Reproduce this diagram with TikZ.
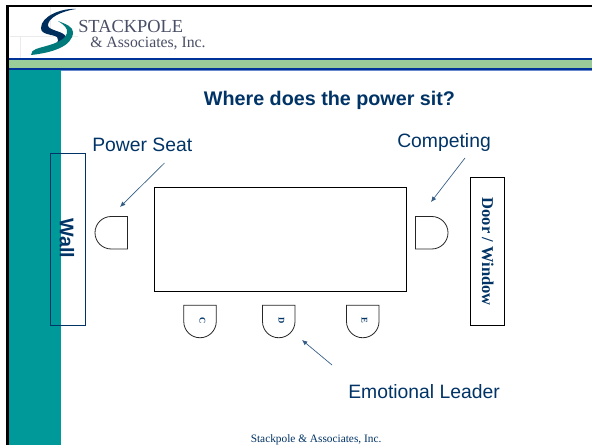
\documentclass[tikz,border=0pt]{standalone}
\usepackage{fontspec}
\setmainfont{Liberation Serif}
\setsansfont{Liberation Sans}
\usetikzlibrary{arrows.meta}
\definecolor{navy}{HTML}{003366}
\definecolor{teal2}{HTML}{009999}
\definecolor{bandgreen}{HTML}{99CC99}
\definecolor{bandblue}{HTML}{003399}
\definecolor{bandlight}{HTML}{6688CC}
\definecolor{logogrey}{HTML}{4A4F66}
\tikzset{
  x=0.75pt,y=-0.75pt,
  chair/.pic={\draw[black!85,line width=0.6pt] (-16.25,-16.25) -- (16.25,-16.25) -- (16.25,0)
     .. controls (16.25,9) and (9,16.25) .. (0,16.25)
     .. controls (-9,16.25) and (-16.25,9) .. (-16.25,0) -- cycle;},
  box/.style={draw=black,line width=0.75pt,inner sep=0pt,anchor=north west},
  label/.style={font=\sffamily\fontsize{14.5}{16}\selectfont,text=navy,anchor=base west,inner sep=0pt},
  seat/.style={font=\rmfamily\bfseries\fontsize{6.5}{7}\selectfont,text=navy,rotate=-90,inner sep=0pt},
  pointer/.style={draw=navy!80,line width=0.5pt,-{Latex[length=4pt,width=3.5pt]}},
}
\begin{document}
\begin{tikzpicture}
\useasboundingbox (0,0) rectangle (592,445);
\fill[white] (0,0) rectangle (592,445);
% frame and bands
\fill[teal2] (9,70) rectangle (61,445);
\fill[bandblue] (6,58) rectangle (592,60);
\fill[bandgreen] (9,60) rectangle (592,68);
\fill[bandblue] (9,68) rectangle (592,70);
\fill[bandlight] (61,70) rectangle (592,71);
\fill[black] (6,5) rectangle (592,7.5);
\fill[black] (6,5) rectangle (9,445);
% logo
\draw[black!8,line width=0.4pt] (10,36) -- (78,36) (50,7) -- (50,36) (20,36) -- (20,58);
\fill[navy!90!black] (76,9) .. controls (62,8) and (41,16) .. (41,28)
  .. controls (41,35) and (52,34) .. (57,37)
  .. controls (61,41) and (56,47) .. (34,51)
  .. controls (52,50) and (67,47) .. (66,37)
  .. controls (64,31) and (50,31) .. (48,26)
  .. controls (47,18) and (62,11) .. (76,9) -- cycle;
\fill[teal2!80!black] (31,55) .. controls (50,53) and (73,47) .. (73,32)
  .. controls (73,27) and (66,24) .. (58,21)
  .. controls (64,25) and (68,28) .. (67,33)
  .. controls (65,43) and (44,46) .. (36,49)
  .. controls (33,50) and (31,52) .. (31,55) -- cycle;
\node[font=\rmfamily\fontsize{13.8}{15}\selectfont,text=logogrey,anchor=base west,inner sep=0pt] (logoa) at (78,33) {STACKPOLE};
\node[font=\rmfamily\fontsize{11.8}{13}\selectfont,text=logogrey,anchor=base west,inner sep=0pt] (logob) at (90,48) {\& Associates, Inc.};
% title
\node[font=\sffamily\bfseries\fontsize{14.8}{16}\selectfont,text=navy,anchor=base,inner sep=0pt] (title) at (329.5,106) {Where does the power sit?};
% boxes
\node[box,draw=navy,minimum width=26.5pt,minimum height=129pt] (wall) at (49.5,152.7) {};
\node[font=\sffamily\bfseries\fontsize{14.8}{16}\selectfont,text=navy,rotate=-90,inner sep=0pt] (walltext) at (67,238.5) {Wall};
\node[box,minimum width=188.5pt,minimum height=77.6pt] (table) at (154.2,187.5) {};
\node[box,minimum width=26pt,minimum height=110.6pt] (door) at (469.8,177.5) {};
\node[font=\rmfamily\bfseries\fontsize{12.4}{14}\selectfont,text=navy,rotate=-90,inner sep=0pt] (doortext) at (door.center) {Door / Window};
% chairs
\pic at (111.25,232.75) [rotate=-90] {chair};
\pic at (431.75,232.75) [rotate=90] {chair};
\pic at (200,321.5) {chair};
\pic at (278.75,321.5) {chair};
\pic at (362.75,321.5) {chair};
\node[seat] (c) at (202.5,321) {C};
\node[seat] (d) at (281.5,320.5) {D};
\node[seat] (e) at (364.5,320.5) {E};
% labels
\node[label] (power) at (92,152) {Power Seat};
\node[label] (comp) at (397,148) {Competing};
\node[label] (emo) at (348,398) {Emotional Leader};
\coordinate (pa) at (164.5,163);
\coordinate (pb) at (120,207);
\coordinate (ca) at (465,158);
\coordinate (cb) at (431,202);
\coordinate (ea) at (332,365);
\coordinate (eb) at (302,340);
\draw[pointer] (pa) -- (pb);
\draw[pointer] (ca) -- (cb);
\draw[pointer] (ea) -- (eb);
\node[font=\rmfamily\fontsize{8.5}{10}\selectfont,text=navy,anchor=base west,inner sep=0pt] (foot) at (250.5,442.5) {Stackpole \& Associates, Inc.};
\end{tikzpicture}
\end{document}
